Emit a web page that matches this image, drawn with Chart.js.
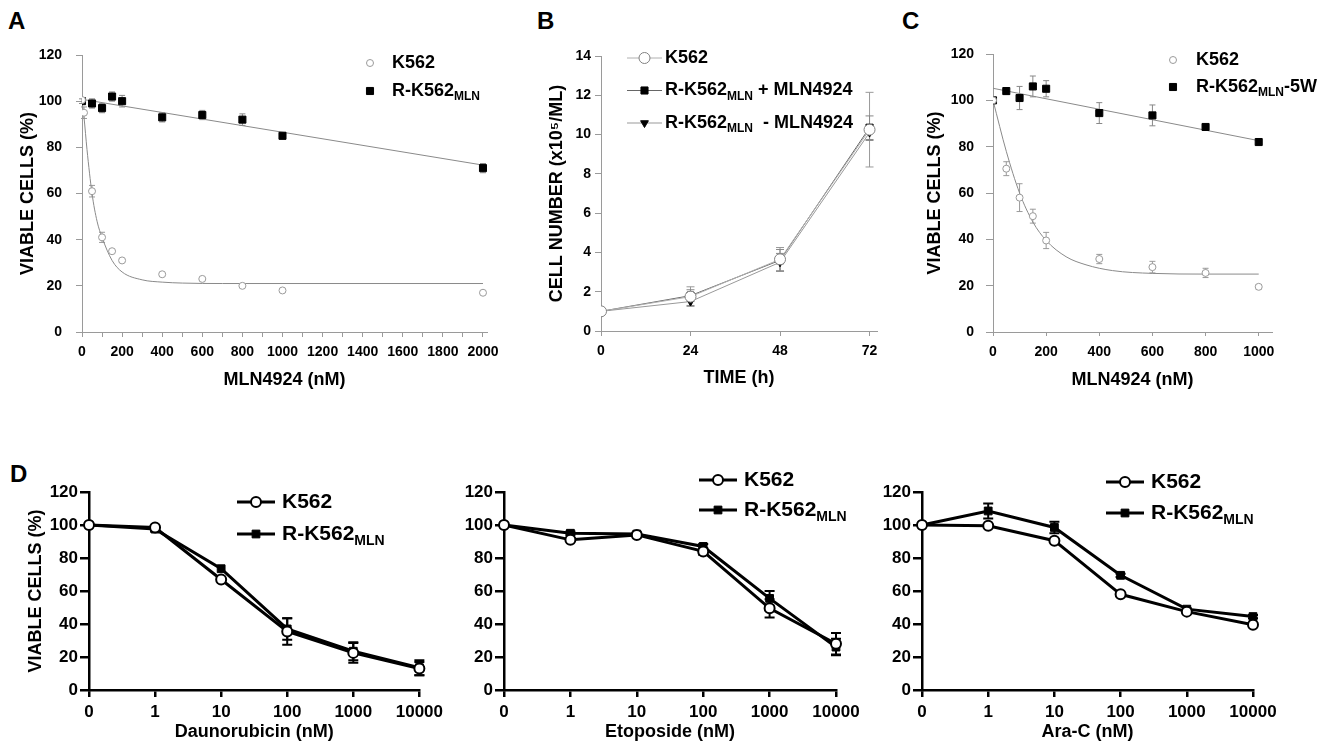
<!DOCTYPE html>
<html>
<head>
<meta charset="utf-8">
<title>MLN4924 resistance</title>
<script src="https://cdn.jsdelivr.net/npm/chart.js@4.4.1/dist/chart.umd.min.js"></script>
<style>
  body { margin: 0; background: #fff; width: 1334px; height: 745px; position: relative; overflow: hidden;
         font-family: "Liberation Sans", Arial, Helvetica, sans-serif; }
  canvas { position: absolute; }
  .tag { position: absolute; font-weight: bold; font-size: 24px; line-height: 24px; }
</style>
</head>
<body>
<div class="tag" style="left:8px;top:9px">A</div>
<div class="tag" style="left:537px;top:9px">B</div>
<div class="tag" style="left:902px;top:9px">C</div>
<div class="tag" style="left:10px;top:462px">D</div>

<canvas id="chartA" width="525" height="400" style="left:0;top:0"></canvas>
<canvas id="chartB" width="375" height="400" style="left:530px;top:0"></canvas>
<canvas id="chartC" width="424" height="400" style="left:910px;top:0"></canvas>
<canvas id="chartD1" width="448" height="305" style="left:0;top:440px"></canvas>
<canvas id="chartD2" width="427" height="305" style="left:448px;top:440px"></canvas>
<canvas id="chartD3" width="459" height="305" style="left:875px;top:440px"></canvas>

<script>
// --- data ---

// A: viability vs MLN4924 (nM)
const doseA = [0, 10, 50, 100, 150, 200, 400, 600, 800, 1000, 2000];
const k562A = [100.5, 95, 61, 41, 35, 31, 25, 23, 20, 18, 17];
const k562AErr = [0, 2.5, 2.5, 2.2, 0, 0, 0, 0, 0, 0, 0];
const doseRA = [0, 50, 100, 150, 200, 400, 600, 800, 1000, 2000];
const rA = [100, 99, 97, 102, 100, 93, 94, 92, 85, 71];
const rAErr = [1, 2, 2, 2, 2.5, 2, 2, 2.5, 1.5, 2];
const fitXA = [0, 10, 25, 50, 75, 100, 150, 200, 300, 400, 500, 700, 2000];
const fitK562A = [100, 93, 79, 60, 48, 41, 31, 26, 22.6, 21.6, 21.2, 21, 21];
const fitRXA = [0, 2000];
const fitRA = [100.8, 72.3];

// B: growth over time (h)
const timeB = [0, 24, 48, 72];
const k562B = [1.0, 1.75, 3.65, 10.25];
const k562BErr = [0, 0.5, 0.6, 1.9];
const rPlusB = [1.0, 1.8, 3.6, 10.35];
const rPlusBErr = [0, 0.3, 0.55, 0.6];
const rMinusB = [1.0, 1.5, 3.5, 10.1];
const rMinusBErr = [0, 0.2, 0.45, 0.4];

// C: viability vs MLN4924 after 5 weeks
const doseC = [0, 50, 100, 150, 200, 400, 600, 800, 1000];
const k562C = [100, 70.5, 58, 50, 39.5, 31.5, 28, 25.5, 19.5];
const k562CErr = [0, 3, 6, 3, 3.5, 2, 2.5, 2, 1];
const rC = [100, 104, 101, 106, 105, 94.5, 93.5, 88.5, 82];
const rCErr = [0, 1.5, 5, 4.5, 3.5, 4.5, 4.5, 1, 1];
const fitXC = [0, 50, 100, 150, 200, 275, 350, 450, 600, 800, 1000];
const fitK562C = [100, 78, 60, 47.5, 39.5, 32.5, 29, 26.5, 25.3, 25, 25];
const fitRXC = [0, 1000];
const fitRC = [105.2, 82.6];

// D: other drugs, log-spaced doses (nM)
const concD = ['0', '1', '10', '100', '1000', '10000'];
const dauK562 = [100, 98.5, 67, 35.5, 22.5, 13];
const dauK562Err = [0, 1, 0, 8, 6, 4];
const dauR = [100, 97.5, 73.5, 37, 23.5, 13.5];
const dauRErr = [0, 1.5, 0, 6.5, 5.5, 4.5];
const etoK562 = [100, 91, 94, 84, 49.5, 28];
const etoK562Err = [0, 0.5, 1.5, 2, 5.5, 6.5];
const etoR = [100, 95, 94.5, 87, 55.5, 26];
const etoRErr = [0, 1, 1, 1.5, 4.5, 5];
const araK562 = [100, 99.5, 90.5, 58, 47.5, 39.5];
const araK562Err = [0, 0, 0, 0, 0, 0];
const araR = [100, 108.5, 98.5, 69.5, 49, 44.5];
const araRErr = [0, 4.5, 3.5, 1, 0.5, 1];

const FONT = '"Liberation Sans", Arial, Helvetica, sans-serif';

function pairs(xs, ys) {
    return xs.map((x, i) => ({x: x, y: ys[i]}));
}

// error bars, drawn under the markers
const errorBars = {
    id: 'errorBars',
    beforeDatasetsDraw(chart) {
        const ctx = chart.ctx;
        const yScale = chart.scales.y;
        chart.data.datasets.forEach((ds, i) => {
            if (!ds.errors) return;
            const meta = chart.getDatasetMeta(i);
            const cap = ds.errorCap || 4;
            ctx.save();
            ctx.strokeStyle = ds.errorColor || '#000';
            ctx.lineWidth = ds.errorWidth || 1;
            meta.data.forEach((pt, j) => {
                const err = ds.errors[j];
                if (!err) return;
                const d = ds.data[j];
                const v = typeof d === 'number' ? d : d.y;
                const top = yScale.getPixelForValue(v + err);
                const bot = yScale.getPixelForValue(v - err);
                ctx.beginPath();
                ctx.moveTo(pt.x, top); ctx.lineTo(pt.x, bot);
                ctx.moveTo(pt.x - cap, top); ctx.lineTo(pt.x + cap, top);
                ctx.moveTo(pt.x - cap, bot); ctx.lineTo(pt.x + cap, bot);
                ctx.stroke();
            });
            ctx.restore();
        });
    }
};

// legend with subscripts ("R-K562" + "MLN")
const sketchLegend = {
    id: 'sketchLegend',
    afterDraw(chart, args, opts) {
        if (!opts || !opts.items) return;
        const ctx = chart.ctx;
        const main = `bold ${opts.size}px ${FONT}`;
        const small = `bold ${opts.subSize}px ${FONT}`;
        opts.items.forEach((item, k) => {
            const ds = chart.data.datasets[item.ds];
            const y = opts.y + k * opts.gap;
            ctx.save();
            if (opts.lineTo) {
                ctx.strokeStyle = ds.borderColor;
                ctx.lineWidth = ds.borderWidth;
                ctx.beginPath();
                ctx.moveTo(opts.lineFrom, y);
                ctx.lineTo(opts.lineTo, y);
                ctx.stroke();
            }
            ctx.fillStyle = ds.pointBackgroundColor;
            ctx.strokeStyle = ds.pointBorderColor;
            ctx.lineWidth = ds.pointBorderWidth;
            Chart.helpers.drawPoint(ctx, {
                pointStyle: ds.pointStyle,
                radius: ds.pointRadius,
                rotation: ds.pointRotation || 0,
                borderWidth: ds.pointBorderWidth
            }, opts.markerX, y);

            let x = opts.textX;
            ctx.fillStyle = '#000';
            ctx.textBaseline = 'middle';
            ctx.font = main;
            ctx.fillText(item.text, x, y);
            x += ctx.measureText(item.text).width;
            if (item.sub) {
                ctx.font = small;
                ctx.fillText(item.sub, x, y + opts.size * 0.33);
                x += ctx.measureText(item.sub).width;
            }
            if (item.tail) {
                ctx.font = main;
                ctx.fillText(item.tail, x, y);
            }
            ctx.restore();
        });
    }
};

Chart.register(errorBars, sketchLegend);

function axis(p) {
    const s = {
        type: p.type || 'linear',
        grid: {drawOnChartArea: false, drawTicks: true, tickLength: p.tick, color: p.color, lineWidth: p.width},
        border: {display: true, color: p.color, width: p.width},
        ticks: {
            color: '#000',
            font: {family: FONT, size: p.size, weight: 'bold'},
            padding: p.pad,
            autoSkip: false,
            maxRotation: 0
        },
        title: {
            display: !!p.title,
            text: p.title,
            color: '#000',
            font: {family: FONT, size: 18, weight: 'bold'},
            padding: p.titlePad || 0
        },
        afterFit: scale => {
            if (p.horizontal) scale.height = p.fit;
            else scale.width = p.fit;
        }
    };
    if (s.type === 'linear') {
        s.min = p.min;
        s.max = p.max;
        s.ticks.stepSize = p.step;
        s.ticks.includeBounds = false;
        const every = p.every || p.step;
        s.ticks.callback = v => (v % every === 0 ? String(v) : '');
    } else {
        s.offset = false;
    }
    return s;
}

function buildChart(id, spec) {
    return new Chart(document.getElementById(id), {
        type: 'line',
        data: {labels: spec.labels, datasets: spec.datasets},
        options: {
            responsive: false,
            animation: false,
            layout: {padding: {top: spec.padTop, right: spec.padRight, left: 0, bottom: 0}},
            plugins: {
                legend: {display: false},
                tooltip: {enabled: false},
                sketchLegend: spec.legend
            },
            scales: {x: spec.x, y: spec.y}
        }
    });
}

// styles for the top row (thin grey)
const GREY = '#9a9a9a';
function openCircles(data, errors) {
    return {data: data, showLine: false, pointStyle: 'circle', pointRadius: 3.5,
        pointBackgroundColor: '#fff', pointBorderColor: GREY, pointBorderWidth: 1,
        borderColor: GREY, borderWidth: 1, errors: errors, errorColor: GREY, errorCap: 3};
}
function blackSquares(data, errors) {
    return {data: data, showLine: false, pointStyle: 'rect', pointRadius: 5,
        pointBackgroundColor: '#000', pointBorderColor: '#000', pointBorderWidth: 1,
        borderColor: '#000', borderWidth: 1, errors: errors, errorColor: '#888', errorCap: 3};
}
function fitLine(data) {
    return {data: data, pointRadius: 0, borderColor: '#8a8a8a', borderWidth: 1,
        cubicInterpolationMode: 'monotone', fill: false};
}

// --- A ---
buildChart('chartA', {
    padTop: 55, padRight: 38,
    datasets: [
        openCircles(pairs(doseA, k562A), k562AErr),
        blackSquares(pairs(doseRA, rA), rAErr),
        fitLine(pairs(fitXA, fitK562A)),
        fitLine(pairs(fitRXA, fitRA))
    ],
    x: axis({horizontal: true, min: 0, max: 2020, step: 100, every: 200, tick: 5, pad: 7, size: 14,
        color: GREY, width: 1, fit: 68, title: 'MLN4924 (nM)', titlePad: {bottom: 9}}),
    y: axis({min: 0, max: 120, step: 20, tick: 6, pad: 14, size: 14, color: GREY, width: 1, fit: 82,
        title: 'VIABLE CELLS (%)', titlePad: {top: 17}}),
    legend: {markerX: 370, textX: 392, y: 63, gap: 28, size: 18, subSize: 12,
        items: [{ds: 0, text: 'K562'}, {ds: 1, text: 'R-K562', sub: 'MLN'}]}
});

// --- B ---
buildChart('chartB', {
    padTop: 56, padRight: 28,
    datasets: [
        {data: pairs(timeB, k562B), borderColor: '#b0b0b0', borderWidth: 1, pointStyle: 'circle', pointRadius: 5.5,
            pointBackgroundColor: '#fff', pointBorderColor: '#808080', pointBorderWidth: 1,
            errors: k562BErr, errorColor: '#999', errorCap: 4},
        {data: pairs(timeB, rPlusB), borderColor: '#666', borderWidth: 1, pointStyle: 'rect', pointRadius: 5,
            pointBackgroundColor: '#000', pointBorderColor: '#000', pointBorderWidth: 1,
            errors: rPlusBErr, errorColor: '#888', errorCap: 4},
        {data: pairs(timeB, rMinusB), borderColor: '#999', borderWidth: 1, pointStyle: 'triangle', pointRotation: 180,
            rotation: 180, pointRadius: 4.5, pointBackgroundColor: '#000', pointBorderColor: '#000', pointBorderWidth: 1,
            errors: rMinusBErr, errorColor: '#888', errorCap: 4}
    ],
    x: axis({horizontal: true, min: 0, max: 74, step: 24, tick: 5, pad: 7, size: 14,
        color: GREY, width: 1, fit: 69, title: 'TIME (h)', titlePad: {bottom: 11}}),
    y: axis({min: 0, max: 14, step: 2, tick: 6, pad: 4, size: 14, color: GREY, width: 1, fit: 71,
        title: 'CELL NUMBER (x10\u2075/ML)', titlePad: {top: 16}}),
    legend: {lineFrom: 97, lineTo: 132, markerX: 114.5, textX: 135, y: 58, gap: 32.5, size: 18, subSize: 12,
        items: [
            {ds: 0, text: 'K562'},
            {ds: 1, text: 'R-K562', sub: 'MLN', tail: ' + MLN4924'},
            {ds: 2, text: 'R-K562', sub: 'MLN', tail: '  - MLN4924'}
        ]}
});

// --- C ---
buildChart('chartC', {
    padTop: 54, padRight: 62,
    datasets: [
        openCircles(pairs(doseC, k562C), k562CErr),
        blackSquares(pairs(doseC, rC), rCErr),
        fitLine(pairs(fitXC, fitK562C)),
        fitLine(pairs(fitRXC, fitRC))
    ],
    x: axis({horizontal: true, min: 0, max: 1050, step: 200, tick: 4, pad: 8, size: 14,
        color: GREY, width: 1, fit: 68, title: 'MLN4924 (nM)', titlePad: {bottom: 9}}),
    y: axis({min: 0, max: 120, step: 20, tick: 7, pad: 12, size: 14, color: GREY, width: 1, fit: 83,
        title: 'VIABLE CELLS (%)', titlePad: {top: 14}}),
    legend: {markerX: 263, textX: 286, y: 60, gap: 27, size: 18, subSize: 12,
        items: [{ds: 0, text: 'K562'}, {ds: 1, text: 'R-K562', sub: 'MLN', tail: '-5W'}]}
});

// --- D (three drugs) ---
function drugPanel(id, k562, k562Err, r, rErr, opts) {
    buildChart(id, {
        padTop: 52, padRight: opts.padRight,
        labels: concD,
        datasets: [
            {data: k562, borderColor: '#000', borderWidth: 3, pointStyle: 'circle', pointRadius: 5,
                pointBackgroundColor: '#fff', pointBorderColor: '#000', pointBorderWidth: 2,
                errors: k562Err, errorColor: '#000', errorWidth: 2, errorCap: 5},
            {data: r, borderColor: '#000', borderWidth: 3, pointStyle: 'rect', pointRadius: 5.5,
                pointBackgroundColor: '#000', pointBorderColor: '#000', pointBorderWidth: 1,
                errors: rErr, errorColor: '#000', errorWidth: 2, errorCap: 5}
        ],
        x: axis({type: 'category', horizontal: true, tick: 7, pad: 5, size: 17, color: '#000', width: 2.5,
            fit: 55, title: opts.xTitle, titlePad: {bottom: 2}}),
        y: axis({min: 0, max: 120, step: 20, tick: 9, pad: 2, size: 17, color: '#000', width: 2.5,
            fit: opts.yFit, title: opts.yTitle, titlePad: {top: 25}}),
        legend: {lineFrom: opts.lx, lineTo: opts.lx + 38, markerX: opts.lx + 19, textX: opts.lx + 45,
            y: opts.ly, gap: opts.gap, size: 21, subSize: 14,
            items: [{ds: 0, text: 'K562'}, {ds: 1, text: 'R-K562', sub: 'MLN'}]}
    });
}

drugPanel('chartD1', dauK562, dauK562Err, dauR, dauRErr,
    {padRight: 27, yFit: 89, xTitle: 'Daunorubicin (nM)', yTitle: 'VIABLE CELLS (%)', lx: 237, ly: 62, gap: 32});
drugPanel('chartD2', etoK562, etoK562Err, etoR, etoRErr,
    {padRight: 39, yFit: 56, xTitle: 'Etoposide (nM)', lx: 251, ly: 40, gap: 30});
drugPanel('chartD3', araK562, araK562Err, araR, araRErr,
    {padRight: 81, yFit: 47, xTitle: 'Ara-C (nM)', lx: 231, ly: 42, gap: 31});
</script>
</body>
</html>
